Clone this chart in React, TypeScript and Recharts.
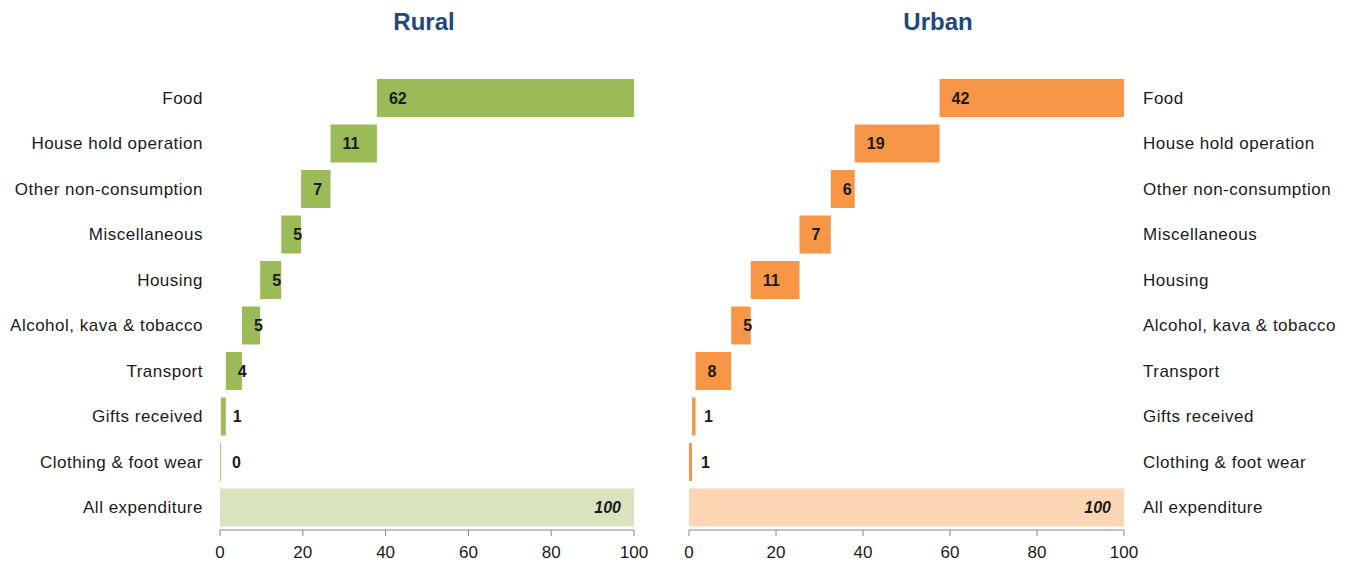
import { BarChart, Bar, XAxis, YAxis, Cell, LabelList } from 'recharts';

const categories = [
  'Food',
  'House hold operation',
  'Other non-consumption',
  'Miscellaneous',
  'Housing',
  'Alcohol, kava & tobacco',
  'Transport',
  'Gifts received',
  'Clothing & foot wear',
  'All expenditure',
];

// shares (% of all expenditure), labels as printed
const ruralShares = [62.1, 11.2, 7.1, 4.8, 5.1, 4.4, 3.9, 1.2, 0.2, 100];
const ruralLabels = [62, 11, 7, 5, 5, 5, 4, 1, 0, 100];
const urbanShares = [42.4, 19.5, 5.5, 7.2, 11.2, 4.5, 8.2, 0.8, 0.7, 100];
const urbanLabels = [42, 19, 6, 7, 11, 5, 8, 1, 1, 100];

const xTicks = [0, 20, 40, 60, 80, 100];

const FONT = '"Liberation Sans", Arial, sans-serif';
const TEXT = '#1a1a1a';
const TOTAL_INDEX = categories.length - 1;

// waterfall: each item sits on the sum of the items below it
function buildRows(shares: number[], labels: number[]) {
  const rows = categories.map((name, i) => ({ name, base: 0, value: shares[i], label: labels[i] }));
  let cum = 0;
  for (let i = TOTAL_INDEX - 1; i >= 0; i--) {
    rows[i].base = cum;
    cum += shares[i];
  }
  return rows;
}

/* eslint-disable @typescript-eslint/no-explicit-any */
function BarLabel(props: any) {
  const { x, y, width, height, value, index } = props;
  const cy = y + height / 2;
  if (index === TOTAL_INDEX) {
    return (
      <text x={x + width - 13} y={cy} textAnchor="end" dominantBaseline="central"
        fontSize={16} fontWeight="bold" fontStyle="italic" fill={TEXT} fontFamily={FONT}>
        {value}
      </text>
    );
  }
  return (
    <text x={x + 12} y={cy} textAnchor="start" dominantBaseline="central"
      fontSize={16} fontWeight="bold" fill={TEXT} fontFamily={FONT}>
      {value}
    </text>
  );
}

interface PanelProps {
  shares: number[];
  labels: number[];
  color: string;
  totalColor: string;
  side: 'left' | 'right';
}

function Panel({ shares, labels, color, totalColor, side }: PanelProps) {
  const data = buildRows(shares, labels);
  const isLeft = side === 'left';
  return (
    <BarChart
      width={isLeft ? 660 : 693}
      height={564}
      layout="vertical"
      data={data}
      margin={isLeft ? { top: 75, right: 26, bottom: 0, left: 0 } : { top: 75, right: 0, bottom: 0, left: 29 }}
      barCategoryGap={4}
    >
      <XAxis
        type="number"
        domain={[0, 100]}
        ticks={xTicks}
        height={34}
        stroke="#868686"
        tickSize={6}
        tickMargin={10}
        tick={{ fill: TEXT, fontSize: 17, fontFamily: FONT }}
      />
      <YAxis
        type="category"
        dataKey="name"
        orientation={side}
        width={isLeft ? 220 : 229}
        axisLine={false}
        tickLine={false}
        tickSize={0}
        tickMargin={isLeft ? 17 : 19}
        interval={0}
        tick={{ fill: TEXT, fontSize: 17, fontFamily: FONT, letterSpacing: 0.5 }}
      />
      <Bar dataKey="base" stackId="w" fill="transparent" isAnimationActive={false} />
      <Bar dataKey="value" stackId="w" isAnimationActive={false}>
        {data.map((row, i) => (
          <Cell key={row.name} fill={i === TOTAL_INDEX ? totalColor : color} />
        ))}
        <LabelList dataKey="label" content={BarLabel} />
      </Bar>
    </BarChart>
  );
}

const titleStyle = {
  position: 'absolute' as const,
  top: 10,
  width: 200,
  textAlign: 'center' as const,
  fontSize: 24,
  lineHeight: '24px',
  fontWeight: 'bold' as const,
  color: '#1F497D',
  fontFamily: FONT,
};

export default function App() {
  return (
    <div style={{ position: 'absolute', left: 0, top: 0, width: 1353, height: 564, background: '#fff', fontFamily: FONT }}>
      <div style={{ ...titleStyle, left: 324 }}>Rural</div>
      <div style={{ ...titleStyle, left: 838 }}>Urban</div>
      <div style={{ position: 'absolute', left: 0, top: 0 }}>
        <Panel shares={ruralShares} labels={ruralLabels} color="#9BBB59" totalColor="#D7E4BD" side="left" />
      </div>
      <div style={{ position: 'absolute', left: 660, top: 0 }}>
        <Panel shares={urbanShares} labels={urbanLabels} color="#F79646" totalColor="#FCD5B5" side="right" />
      </div>
    </div>
  );
}
